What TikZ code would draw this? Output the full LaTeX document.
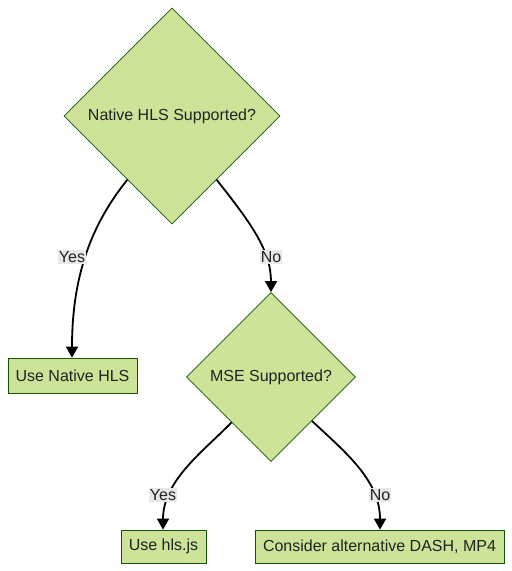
\documentclass[tikz,border=0pt]{standalone}
\usepackage{fontspec}
\setmainfont{Liberation Sans}
\usetikzlibrary{shapes.geometric,arrows.meta}
\definecolor{nodefill}{HTML}{CDE498}
\definecolor{nodeline}{HTML}{13540C}
\definecolor{labelbg}{HTML}{E8E8E8}
\definecolor{ink}{HTML}{222222}
\tikzset{
  decision/.style={diamond,draw=nodeline,fill=nodefill,line width=0.75pt,shape aspect=1,inner sep=0pt,text=ink},
  action/.style={rectangle,draw=nodeline,fill=nodefill,line width=0.75pt,inner sep=0pt,text=ink},
  flow/.style={line width=1.8pt,-{Triangle[length=11pt,width=12pt]}},
  answer/.style={fill=labelbg,inner sep=1pt,text=ink}
}
\begin{document}
\begin{tikzpicture}[x=1pt,y=-1pt,font=\fontsize{16}{19}\selectfont]
\useasboundingbox (0,0) rectangle (512,571);
\node[decision,minimum size=216pt] (native) at (172,116) {Native HLS Supported?};
\node[decision,minimum size=169pt] (mse) at (271,377) {MSE Supported?};
\node[action,minimum width=129pt,minimum height=35pt] (usenative) at (72.5,375.5) {Use Native HLS};
\node[action,minimum width=85pt,minimum height=33pt] (usehlsjs) at (163.5,546.5) {Use hls.js};
\node[action,minimum width=249pt,minimum height=33pt] (other) at (379.5,546.5) {Consider alternative DASH, MP4};
\draw[flow] (native.235.5) .. controls (95,220) and (72,270) .. (usenative.north -| 72,0);
\draw[flow] (native.305.7) .. controls (250,222) and (271,250) .. (mse.north);
\draw[flow] (mse.229) .. controls (205,450) and (163,480) .. (usehlsjs.north -| 163,0);
\draw[flow] (mse.313) .. controls (345,452) and (380,480) .. (other.north -| 380,0);
\node[answer] (yes1) at (72,257) {Yes};
\node[answer] (no1) at (271,257) {No};
\node[answer] (yes2) at (163,495) {Yes};
\node[answer] (no2) at (380,495) {No};
\end{tikzpicture}
\end{document}
